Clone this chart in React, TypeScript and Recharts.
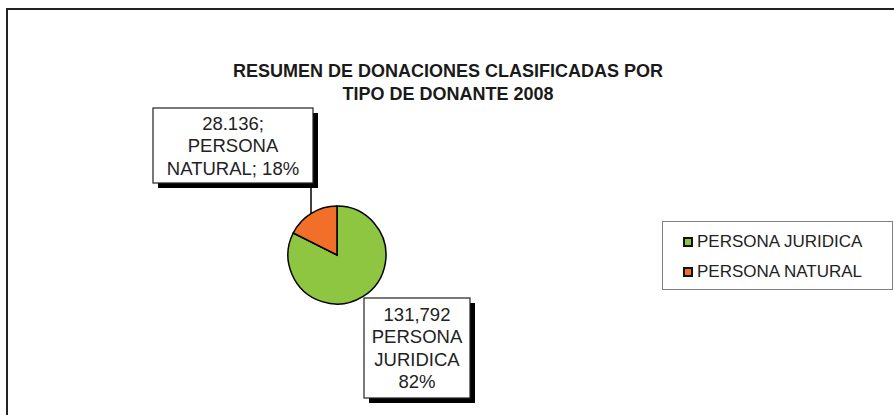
import { Cell, Legend, Pie, PieChart } from "recharts"

const categories = ["PERSONA JURIDICA", "PERSONA NATURAL"]
const donations = [131792, 28136]
const labelLines = [
  ["131,792", "PERSONA", "JURIDICA", "82%"],
  ["28.136;", "PERSONA", "NATURAL; 18%"],
]
const titleLines = ["RESUMEN DE DONACIONES CLASIFICADAS POR", "TIPO DE DONANTE 2008"]

const colors = ["#8EC641", "#F26F2A"]
const font = '"Liberation Sans", Arial, sans-serif'

// label box placement relative to the pie centre
const boxes = [
  { dx: 27, dy: 43, w: 106, h: 100, lead: false },
  { dx: -184, dy: -147, w: 160, h: 75, lead: true },
]

const data = categories.map((name, i) => ({ name, value: donations[i] }))

function DataLabel(props: any) {
  const { cx, cy, outerRadius, index } = props
  const b = boxes[index]
  const lines = labelLines[index]
  const x = cx + b.dx
  const y = cy + b.dy
  const lineH = 22.5
  const firstY = y + b.h / 2 - ((lines.length - 1) * lineH) / 2
  const leadX = x + b.w - 2
  const leadEnd = cy - Math.sqrt(outerRadius * outerRadius - (leadX - cx) * (leadX - cx))
  return (
    <g>
      {b.lead && (
        <line x1={leadX} y1={y + b.h + 5} x2={leadX} y2={leadEnd} stroke="#000" strokeWidth={1.5} />
      )}
      <rect x={x + 5} y={y + 5} width={b.w} height={b.h} fill="#000" />
      <rect x={x} y={y} width={b.w} height={b.h} fill="#fff" stroke="#222" strokeWidth={1.2} />
      {lines.map((t, i) => (
        <text
          key={i}
          x={x + b.w / 2}
          y={firstY + i * lineH}
          textAnchor="middle"
          dominantBaseline="central"
          fontSize={18.5}
          fontFamily={font}
          fill="#222"
        >
          {t}
        </text>
      ))}
    </g>
  )
}

function LegendBox({ payload }: any) {
  return (
    <div
      style={{
        width: 231,
        height: 69,
        boxSizing: "border-box",
        border: "1px solid #808080",
        background: "#fff",
        paddingTop: 5,
      }}
    >
      {(payload || []).map((p: any) => (
        <div
          key={p.value}
          style={{ display: "flex", alignItems: "center", height: 30, paddingLeft: 20, fontFamily: font, fontSize: 17, color: "#222" }}
        >
          <span
            style={{
              display: "inline-block",
              width: 6,
              height: 6,
              border: "2px solid #111",
              background: p.color,
              marginRight: 4,
            }}
          />
          {p.value}
        </div>
      ))}
    </div>
  )
}

export default function App() {
  return (
    <div style={{ position: "absolute", left: 0, top: 0, width: 894, height: 415, overflow: "hidden", background: "#fff" }}>
      <div
        style={{
          position: "absolute",
          left: 6,
          top: 8,
          width: 900,
          height: 420,
          borderLeft: "2px solid #222",
          borderTop: "2px solid #222",
        }}
      />
      <div
        style={{
          position: "absolute",
          left: 0,
          top: 60,
          width: 896,
          textAlign: "center",
          fontFamily: font,
          fontWeight: "bold",
          fontSize: 18,
          lineHeight: "23px",
          color: "#1a1a1a",
        }}
      >
        {titleLines.map((t) => (
          <div key={t}>{t}</div>
        ))}
      </div>
      <PieChart width={894} height={415} margin={{ top: 0, right: 0, bottom: 0, left: 0 }} style={{ position: "absolute", left: 0, top: 0 }}>
        <Pie
          data={data}
          dataKey="value"
          nameKey="name"
          cx={337}
          cy={255}
          outerRadius={49}
          startAngle={90}
          endAngle={-270}
          stroke="#000"
          strokeWidth={1.5}
          label={DataLabel}
          labelLine={false}
          isAnimationActive={false}
        >
          {data.map((d, i) => (
            <Cell key={d.name} fill={colors[i]} />
          ))}
        </Pie>
        <Legend
          content={LegendBox}
          wrapperStyle={{ position: "absolute", left: 662, top: 221, width: 231, height: 69 }}
        />
      </PieChart>
    </div>
  )
}
